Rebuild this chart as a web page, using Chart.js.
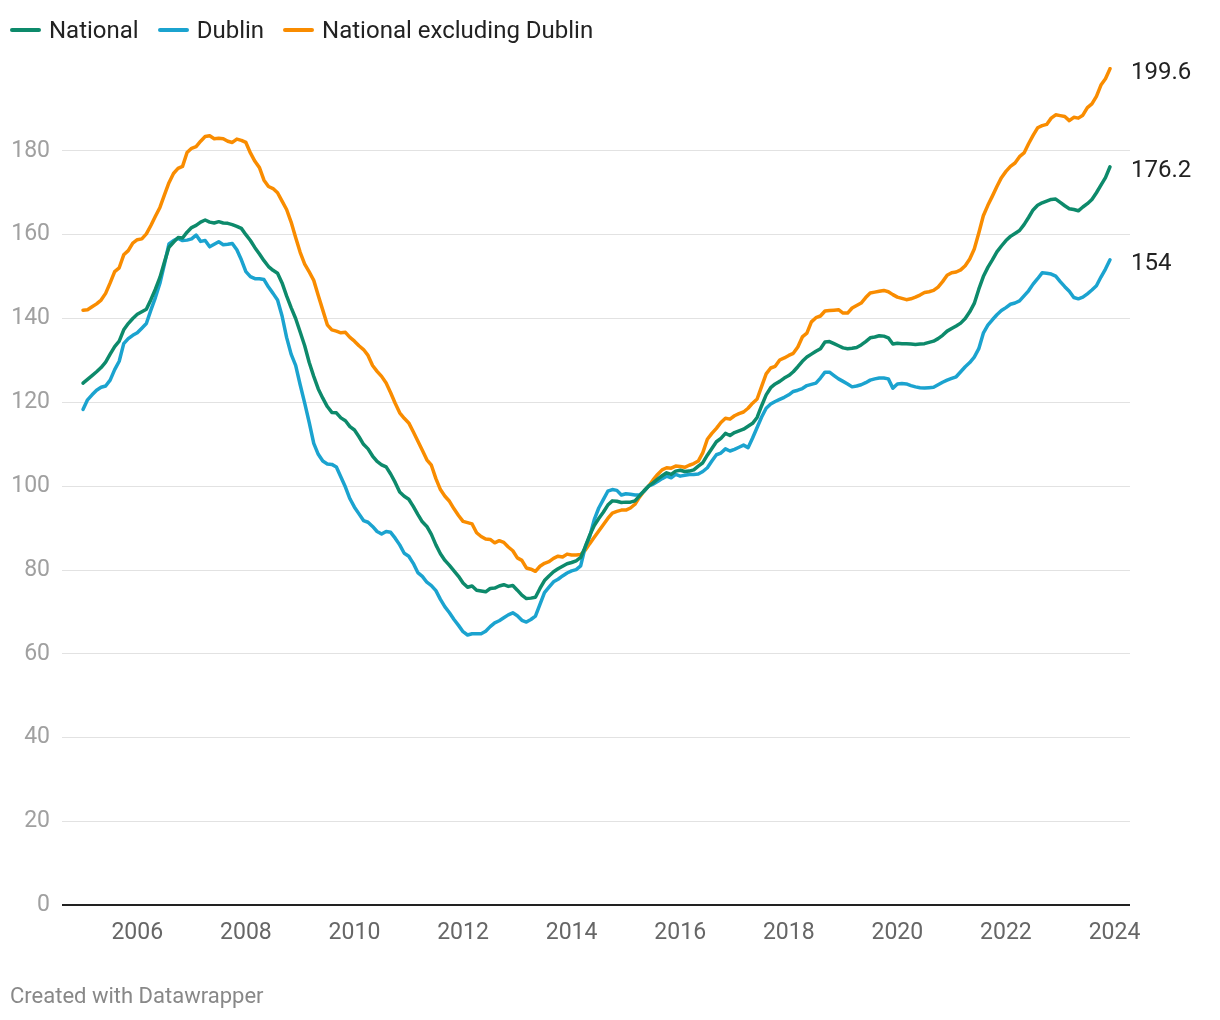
<!DOCTYPE html>
<html>
<head>
<meta charset="utf-8">
<script src="https://cdn.jsdelivr.net/npm/chart.js@4.4.1/dist/chart.umd.min.js"></script>
<style>
  html, body { margin: 0; padding: 0; background: #fff; }
  #wrap { position: relative; width: 1220px; height: 1020px; font-family: Roboto, sans-serif; }
  #myChart { position: absolute; left: 0; top: 0; }
  #legend { position: absolute; left: 10px; top: 16px; display: flex; align-items: center; font-size: 24px; color: #222; }
  #legend .item { display: flex; align-items: center; margin-right: 19px; }
  #legend .swatch { width: 31px; height: 4px; border-radius: 2px; margin-right: 8px; }
  #credit { position: absolute; left: 10px; top: 983px; font-size: 22px; color: #888; }
</style>
</head>
<body>
<div id="wrap">
  <canvas id="myChart" width="1220" height="1020"></canvas>
  <div id="legend"></div>
  <div id="credit">Created with Datawrapper</div>
</div>
<script>
// monthly index, Jan 2005 - Dec 2023 (one row per year)
var firstYear = 2005;
var lastYear = 2023;

var national = [
  124.6, 125.5, 126.4, 127.3, 128.3, 129.6, 131.5, 133.3, 134.6, 137.3, 138.8, 140.0,
  141.0, 141.6, 142.2, 144.5, 147.0, 149.8, 153.5, 157.0, 158.2, 159.3, 159.2, 160.6,
  161.7, 162.2, 163.0, 163.5, 163.0, 162.8, 163.1, 162.8, 162.7, 162.4, 162.0, 161.5,
  160.0, 158.6, 156.9, 155.4, 153.8, 152.4, 151.5, 150.8, 148.5, 145.4, 142.6, 140.0,
  136.8, 133.5, 129.5, 126.2, 123.2, 121.0, 119.0, 117.6, 117.5, 116.3, 115.6, 114.2,
  113.4, 111.8, 110.0, 108.9, 107.2, 105.9, 105.1, 104.6, 102.9, 100.9, 98.6, 97.6,
  96.9, 95.2, 93.3, 91.5, 90.4, 88.5, 86.0, 83.9, 82.3, 81.1, 79.8, 78.5,
  76.9, 75.9, 76.2, 75.2, 75.0, 74.8, 75.6, 75.7, 76.2, 76.5, 76.1, 76.3,
  75.2, 74.0, 73.2, 73.3, 73.5, 75.6, 77.5, 78.6, 79.6, 80.3, 80.9, 81.5,
  81.8, 82.2, 83.0, 85.5, 88.3, 90.6, 92.3, 93.8, 95.5, 96.5, 96.4, 96.1,
  96.2, 96.2, 96.5, 97.7, 98.9, 100.0, 100.8, 101.7, 102.5, 103.2, 102.8, 103.6,
  103.8, 103.5, 103.6, 103.9, 104.8, 105.6, 107.4, 109.0, 110.6, 111.4, 112.6, 112.1,
  112.8, 113.2, 113.6, 114.3, 115.0, 116.4, 119.2, 121.8, 123.5, 124.4, 125.0, 125.8,
  126.4, 127.3, 128.5, 129.8, 130.8, 131.5, 132.2, 132.8, 134.4, 134.5, 134.0, 133.5,
  133.0, 132.8, 132.9, 133.1, 133.7, 134.5, 135.4, 135.6, 135.9, 135.8, 135.4, 133.9,
  134.1, 134.0, 134.0, 133.9, 133.8, 133.9, 134.0, 134.3, 134.6, 135.2, 136.0, 137.0,
  137.6, 138.2, 138.9, 140.0, 141.6, 143.6, 147.0, 150.0, 152.2, 154.0, 155.9, 157.3,
  158.6, 159.6, 160.3, 161.0, 162.4, 164.1, 165.9, 167.0, 167.6, 168.0, 168.4, 168.5,
  167.7, 166.9, 166.2, 166.0, 165.7, 166.6, 167.4, 168.4, 170.0, 171.8, 173.6, 176.2
];

var dublin = [
  118.3, 120.6, 121.8, 122.9, 123.6, 123.9, 125.3, 127.8, 129.8, 134.0, 135.2, 136.0,
  136.6, 137.7, 138.8, 142.0, 145.0, 148.4, 153.0, 157.8, 158.6, 159.1, 158.6, 158.7,
  159.0, 159.9, 158.4, 158.6, 157.1, 157.7, 158.3, 157.6, 157.7, 157.9, 156.4, 154.0,
  151.2, 150.0, 149.5, 149.5, 149.3, 147.5, 146.0, 144.4, 140.6, 135.5, 131.5, 128.8,
  124.2, 119.8, 115.2, 110.2, 107.6, 106.0, 105.3, 105.2, 104.6, 102.2, 99.8, 97.0,
  95.0, 93.4, 91.8, 91.4, 90.4, 89.2, 88.6, 89.2, 89.0, 87.6, 86.0, 84.0,
  83.3, 81.6, 79.4, 78.5, 77.1, 76.3, 75.1, 73.0, 71.2, 69.8, 68.2, 66.8,
  65.3, 64.5, 64.8, 64.8, 64.8, 65.4, 66.5, 67.4, 67.9, 68.6, 69.3, 69.8,
  69.1, 68.0, 67.6, 68.2, 69.0, 71.8, 74.6, 75.9, 77.2, 77.8, 78.6, 79.3,
  79.8, 80.1, 81.0, 85.5, 88.0, 92.0, 94.8, 96.8, 98.8, 99.2, 99.0, 97.9,
  98.2, 98.1, 97.9, 97.9, 98.8, 100.0, 100.5, 101.1, 101.8, 102.4, 102.0, 102.8,
  102.4, 102.6, 102.8, 102.8, 102.9, 103.5, 104.4, 106.0, 107.5, 107.9, 108.9, 108.4,
  108.8, 109.3, 109.8, 109.2, 111.5, 114.0, 116.5, 118.6, 119.6, 120.2, 120.7, 121.2,
  121.8, 122.6, 122.9, 123.3, 124.0, 124.3, 124.6, 125.8, 127.2, 127.2, 126.4, 125.6,
  125.0, 124.4, 123.7, 123.9, 124.2, 124.7, 125.3, 125.6, 125.8, 125.8, 125.6, 123.4,
  124.4, 124.5, 124.4, 124.0, 123.7, 123.5, 123.4, 123.5, 123.6, 124.2, 124.8, 125.3,
  125.7, 126.1, 127.3, 128.5, 129.5, 130.8, 132.8, 136.5, 138.4, 139.7, 140.9, 141.9,
  142.6, 143.4, 143.7, 144.2, 145.4, 146.6, 148.2, 149.5, 150.9, 150.8, 150.6, 150.1,
  148.8, 147.6, 146.5, 145.0, 144.7, 145.1, 145.9, 146.8, 147.8, 149.9, 151.8, 154.0
];

var exDublin = [
  142.0, 142.1, 142.8, 143.5, 144.4, 146.0, 148.5, 151.2, 152.1, 155.2, 156.2, 158.0,
  158.8, 159.0, 160.2, 162.2, 164.4, 166.5, 169.5, 172.4, 174.6, 175.8, 176.3, 179.6,
  180.6, 181.0, 182.3, 183.4, 183.6, 182.9, 183.0, 182.9, 182.3, 182.0, 182.8, 182.5,
  182.0, 179.5, 177.5, 176.0, 173.0, 171.5, 171.0, 170.0, 168.0, 166.0, 163.0, 159.3,
  155.8, 153.0, 151.1, 149.1, 145.5, 142.0, 138.5, 137.3, 137.0, 136.6, 136.7, 135.5,
  134.6, 133.5, 132.6, 131.2, 128.8, 127.4, 126.2, 124.6, 122.3, 119.8, 117.5, 116.2,
  115.1, 113.0, 110.8, 108.6, 106.3, 105.0, 101.8, 99.2, 97.6, 96.4, 94.6, 93.0,
  91.6, 91.3, 91.0, 88.9, 88.0, 87.4, 87.3, 86.5, 87.0, 86.6, 85.5, 84.6,
  82.9, 82.3, 80.5, 80.2, 79.7, 80.9, 81.6, 82.0, 82.8, 83.3, 83.1, 83.8,
  83.6, 83.6, 83.7, 84.7, 86.3, 87.8, 89.3, 90.8, 92.3, 93.6, 94.0, 94.3,
  94.3, 94.8, 95.7, 97.4, 98.8, 100.0, 101.5, 102.8, 103.9, 104.4, 104.3, 104.8,
  104.7, 104.5, 105.0, 105.4, 106.0, 108.0, 111.2, 112.6, 113.8, 115.2, 116.2, 116.0,
  116.8, 117.3, 117.7, 118.6, 119.8, 120.8, 123.8, 126.8, 128.2, 128.6, 130.1, 130.6,
  131.2, 131.7, 133.2, 135.6, 136.5, 139.2, 140.2, 140.6, 141.8, 141.9, 142.0, 142.1,
  141.3, 141.3, 142.5, 143.1, 143.7, 145.0, 146.1, 146.3, 146.5, 146.7, 146.4, 145.7,
  145.1, 144.8, 144.5, 144.7, 145.1, 145.6, 146.2, 146.4, 146.7, 147.5, 148.8, 150.3,
  150.9, 151.1, 151.6, 152.6, 154.2, 156.6, 160.4, 164.5, 167.0, 169.2, 171.5, 173.6,
  175.1, 176.3, 177.1, 178.6, 179.5, 181.7, 183.7, 185.5, 186.0, 186.3, 187.8, 188.6,
  188.4, 188.2, 187.2, 188.0, 187.8, 188.5, 190.3, 191.2, 193.0, 195.7, 197.2, 199.6
];

var seriesNames = ['National', 'Dublin', 'National excluding Dublin'];
var seriesColors = ['#0d8a6b', '#1ba3cf', '#f98c00'];
var yearTicks = [2006, 2008, 2010, 2012, 2014, 2016, 2018, 2020, 2022, 2024];
var valueTicks = [0, 20, 40, 60, 80, 100, 120, 140, 160, 180];

// month positions as decimal years
var months = [];
for (var y = firstYear; y <= lastYear; y++) {
  for (var m = 0; m < 12; m++) months.push(y + m / 12);
}

function toPoints(values) {
  return values.map(function (v, i) { return { x: months[i], y: v }; });
}

// legend
var legendEl = document.getElementById('legend');
seriesNames.forEach(function (name, i) {
  var item = document.createElement('div');
  item.className = 'item';
  var sw = document.createElement('span');
  sw.className = 'swatch';
  sw.style.background = seriesColors[i];
  var txt = document.createElement('span');
  txt.textContent = name;
  item.appendChild(sw);
  item.appendChild(txt);
  legendEl.appendChild(item);
});

// value label at the end of every line
var endLabels = {
  id: 'endLabels',
  afterDatasetsDraw: function (chart) {
    var ctx = chart.ctx;
    var ys = chart.scales.y;
    ctx.save();
    ctx.font = '24px Roboto';
    ctx.fillStyle = '#222';
    ctx.textAlign = 'left';
    ctx.textBaseline = 'middle';
    chart.data.datasets.forEach(function (ds) {
      var last = ds.data[ds.data.length - 1];
      ctx.fillText(String(last.y), chart.chartArea.right + 1, ys.getPixelForValue(last.y) + 4);
    });
    ctx.restore();
  }
};

Chart.defaults.font.family = 'Roboto';

var ctx = document.getElementById('myChart').getContext('2d');
var chart = new Chart(ctx, {
  type: 'line',
  data: {
    datasets: [national, dublin, exDublin].map(function (vals, i) {
      return {
        label: seriesNames[i],
        data: toPoints(vals),
        borderColor: seriesColors[i],
        borderWidth: 3.5,
        borderCapStyle: 'round',
        borderJoinStyle: 'round',
        pointRadius: 0,
        tension: 0
      };
    })
  },
  plugins: [endLabels],
  options: {
    responsive: false,
    animation: false,
    events: [],
    layout: { padding: { top: 67, right: 90, bottom: 59, left: 0 } },
    plugins: {
      legend: { display: false },
      tooltip: { enabled: false }
    },
    scales: {
      x: {
        type: 'linear',
        min: 2004.613,
        max: 2024.285,
        afterBuildTicks: function (scale) {
          scale.ticks = yearTicks.map(function (v) { return { value: v }; });
        },
        ticks: {
          color: '#666',
          font: { size: 23 },
          padding: 14,
          maxRotation: 0,
          autoSkip: false,
          callback: function (v) { return String(v); }
        },
        grid: { display: false, drawTicks: false },
        border: { display: false }
      },
      y: {
        min: 0,
        max: 200,
        afterBuildTicks: function (scale) {
          scale.ticks = valueTicks.map(function (v) { return { value: v }; });
        },
        afterFit: function (scale) { scale.width = 62; },
        ticks: {
          color: '#a0a0a0',
          font: { size: 23 },
          padding: 12
        },
        grid: {
          drawTicks: false,
          color: function (c) { return c.tick && c.tick.value === 0 ? '#222' : '#e2e2e2'; },
          lineWidth: function (c) { return c.tick && c.tick.value === 0 ? 2 : 1; }
        },
        border: { display: false }
      }
    }
  }
});
</script>
</body>
</html>
